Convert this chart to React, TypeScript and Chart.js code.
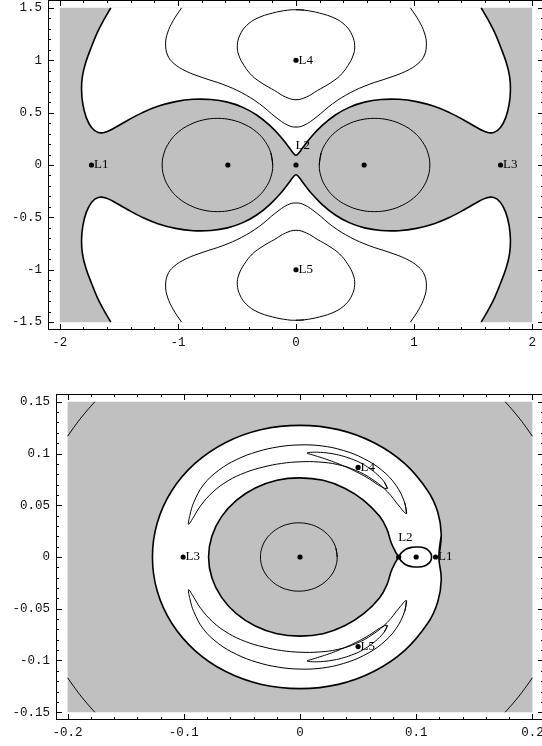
import React, { useEffect, useRef } from "react";
import { Chart, registerables } from "chart.js";

Chart.register(...registerables);

type P = [number, number];

const GRAY = "rgb(192,192,192)";

// ================= TOP CHART (equal masses) =================
const topXRange: P = [-2.1, 2.1];
const topYRange: P = [-1.575, 1.575];
const topXTicks = [-2, -1, 0, 1, 2];
const topXTickLabels = ["-2", "-1", "0", "1", "2"];
const topYTicks = [-1.5, -1, -0.5, 0, 0.5, 1, 1.5];
const topYTickLabels = ["-1.5", "-1", "-0.5", "0", "0.5", "1", "1.5"];
const topXMinor = [-1.8, -1.6, -1.4, -1.2, -0.8, -0.6, -0.4, -0.2, 0.2, 0.4, 0.6, 0.8, 1.2, 1.4, 1.6, 1.8];
const topYMinor = [-1.4, -1.3, -1.2, -1.1, -0.9, -0.8, -0.7, -0.6, -0.4, -0.3, -0.2, -0.1, 0.1, 0.2, 0.3, 0.4, 0.6, 0.7, 0.8, 0.9, 1.1, 1.2, 1.3, 1.4];

const topRegion: P[] = [[-2, -1.5], [-2, 1.5], [2, 1.5], [2, -1.5], [-2, -1.5]];

const topUpperBoundary: P[] = [
  [-1.568, 1.5], [-1.625, 1.39], [-1.68, 1.27], [-1.735, 1.12], [-1.78, 0.98], [-1.808, 0.85], [-1.816, 0.72],
  [-1.805, 0.58], [-1.775, 0.45], [-1.73, 0.355], [-1.675, 0.31], [-1.61, 0.315], [-1.52, 0.365], [-1.42, 0.43],
  [-1.3, 0.5], [-1.17, 0.56], [-1.02, 0.605], [-0.87, 0.627], [-0.72, 0.625], [-0.58, 0.6], [-0.45, 0.55],
  [-0.33, 0.475], [-0.22, 0.375], [-0.13, 0.27], [-0.06, 0.17], [-0.022, 0.113], [0, 0.093],
  [0.022, 0.113], [0.06, 0.17], [0.13, 0.27], [0.22, 0.375], [0.33, 0.475], [0.45, 0.55], [0.58, 0.6],
  [0.72, 0.625], [0.87, 0.627], [1.02, 0.605], [1.17, 0.56], [1.3, 0.5], [1.42, 0.43], [1.52, 0.365],
  [1.61, 0.315], [1.675, 0.31], [1.73, 0.355], [1.775, 0.45], [1.805, 0.58], [1.816, 0.72], [1.808, 0.85],
  [1.78, 0.98], [1.735, 1.12], [1.68, 1.27], [1.625, 1.39], [1.568, 1.5],
];

const topLowerBoundary: P[] = [
  [-1.568, -1.5], [-1.625, -1.39], [-1.68, -1.27], [-1.735, -1.12], [-1.78, -0.98], [-1.808, -0.85], [-1.816, -0.72],
  [-1.805, -0.58], [-1.775, -0.45], [-1.73, -0.355], [-1.675, -0.31], [-1.61, -0.315], [-1.52, -0.365], [-1.42, -0.43],
  [-1.3, -0.5], [-1.17, -0.56], [-1.02, -0.605], [-0.87, -0.627], [-0.72, -0.625], [-0.58, -0.6], [-0.45, -0.55],
  [-0.33, -0.475], [-0.22, -0.375], [-0.13, -0.27], [-0.06, -0.17], [-0.022, -0.113], [0, -0.093],
  [0.022, -0.113], [0.06, -0.17], [0.13, -0.27], [0.22, -0.375], [0.33, -0.475], [0.45, -0.55], [0.58, -0.6],
  [0.72, -0.625], [0.87, -0.627], [1.02, -0.605], [1.17, -0.56], [1.3, -0.5], [1.42, -0.43], [1.52, -0.365],
  [1.61, -0.315], [1.675, -0.31], [1.73, -0.355], [1.775, -0.45], [1.805, -0.58], [1.816, -0.72], [1.808, -0.85],
  [1.78, -0.98], [1.735, -1.12], [1.68, -1.27], [1.625, -1.39], [1.568, -1.5],
];

const topLeftOval: P[] = [
  [-0.197, 0], [-0.213, 0.115], [-0.26, 0.2225], [-0.334, 0.315], [-0.431, 0.385], [-0.544, 0.43], [-0.665, 0.445],
  [-0.786, 0.43], [-0.899, 0.385], [-0.996, 0.315], [-1.07, 0.2225], [-1.117, 0.115], [-1.133, 0],
  [-1.117, -0.115], [-1.07, -0.2225], [-0.996, -0.315], [-0.899, -0.385], [-0.786, -0.43], [-0.665, -0.445],
  [-0.544, -0.43], [-0.431, -0.385], [-0.334, -0.315], [-0.26, -0.2225], [-0.213, -0.115], [-0.197, 0], [-0.213, 0.115],
];

const topRightOval: P[] = [
  [0.197, 0], [0.213, 0.115], [0.26, 0.2225], [0.334, 0.315], [0.431, 0.385], [0.544, 0.43], [0.665, 0.445],
  [0.786, 0.43], [0.899, 0.385], [0.996, 0.315], [1.07, 0.2225], [1.117, 0.115], [1.133, 0],
  [1.117, -0.115], [1.07, -0.2225], [0.996, -0.315], [0.899, -0.385], [0.786, -0.43], [0.665, -0.445],
  [0.544, -0.43], [0.431, -0.385], [0.334, -0.315], [0.26, -0.2225], [0.213, -0.115], [0.197, 0], [0.213, 0.115],
];

const topUpperContour: P[] = [
  [-0.969, 1.5], [-1.04, 1.378], [-1.088, 1.26], [-1.104, 1.156], [-1.088, 1.05], [-1.035, 0.97], [-0.93, 0.895],
  [-0.78, 0.83], [-0.62, 0.77], [-0.46, 0.69], [-0.31, 0.585], [-0.17, 0.455], [-0.07, 0.38], [0, 0.362],
  [0.07, 0.38], [0.17, 0.455], [0.31, 0.585], [0.46, 0.69], [0.62, 0.77], [0.78, 0.83], [0.93, 0.895],
  [1.035, 0.97], [1.088, 1.05], [1.104, 1.156], [1.088, 1.26], [1.04, 1.378], [0.969, 1.5],
];

const topLowerContour: P[] = [
  [-0.969, -1.5], [-1.04, -1.378], [-1.088, -1.26], [-1.104, -1.156], [-1.088, -1.05], [-1.035, -0.97], [-0.93, -0.895],
  [-0.78, -0.83], [-0.62, -0.77], [-0.46, -0.69], [-0.31, -0.585], [-0.17, -0.455], [-0.07, -0.38], [0, -0.362],
  [0.07, -0.38], [0.17, -0.455], [0.31, -0.585], [0.46, -0.69], [0.62, -0.77], [0.78, -0.83], [0.93, -0.895],
  [1.035, -0.97], [1.088, -1.05], [1.104, -1.156], [1.088, -1.26], [1.04, -1.378], [0.969, -1.5],
];

const topL4Loop: P[] = [
  [0, 1.482], [0.07, 1.478], [0.2, 1.45], [0.33, 1.4], [0.42, 1.33], [0.475, 1.24], [0.497, 1.14], [0.485, 1.05],
  [0.44, 0.95], [0.37, 0.85], [0.28, 0.775], [0.18, 0.71], [0.09, 0.65], [0, 0.623], [-0.09, 0.65], [-0.18, 0.71],
  [-0.28, 0.775], [-0.37, 0.85], [-0.44, 0.95], [-0.485, 1.05], [-0.497, 1.14], [-0.475, 1.24], [-0.42, 1.33],
  [-0.33, 1.4], [-0.2, 1.45], [-0.07, 1.478], [0, 1.482], [0.07, 1.478],
];

const topL5Loop: P[] = [
  [0, -1.482], [0.07, -1.478], [0.2, -1.45], [0.33, -1.4], [0.42, -1.33], [0.475, -1.24], [0.497, -1.14], [0.485, -1.05],
  [0.44, -0.95], [0.37, -0.85], [0.28, -0.775], [0.18, -0.71], [0.09, -0.65], [0, -0.623], [-0.09, -0.65], [-0.18, -0.71],
  [-0.28, -0.775], [-0.37, -0.85], [-0.44, -0.95], [-0.485, -1.05], [-0.497, -1.14], [-0.475, -1.24], [-0.42, -1.33],
  [-0.33, -1.4], [-0.2, -1.45], [-0.07, -1.478], [0, -1.482], [0.07, -1.478],
];

const topPrimaryX = [-0.577, 0.577];
const topPrimaryY = [0, 0];
const topLabelNames = ["L1", "L2", "L3", "L4", "L5"];
const topLabelX = [-1.732, 0, 1.732, 0, 0];
const topLabelY = [0, 0, 0, 1, -1];
const topLabelSide = ["right", "above", "right", "right", "right"];

// ================= BOTTOM CHART (small mass ratio) =================
const botXRange: P = [-0.21, 0.21];
const botYRange: P = [-0.1575, 0.1575];
const botXTicks = [-0.2, -0.1, 0, 0.1, 0.2];
const botXTickLabels = ["-0.2", "-0.1", "0", "0.1", "0.2"];
const botYTicks = [-0.15, -0.1, -0.05, 0, 0.05, 0.1, 0.15];
const botYTickLabels = ["-0.15", "-0.1", "-0.05", "0", "0.05", "0.1", "0.15"];
const botXMinor = [-0.18, -0.16, -0.14, -0.12, -0.08, -0.06, -0.04, -0.02, 0.02, 0.04, 0.06, 0.08, 0.12, 0.14, 0.16, 0.18];
const botYMinor = [-0.14, -0.13, -0.12, -0.11, -0.09, -0.08, -0.07, -0.06, -0.04, -0.03, -0.02, -0.01, 0.01, 0.02, 0.03, 0.04, 0.06, 0.07, 0.08, 0.09, 0.11, 0.12, 0.13, 0.14];

const botRegion: P[] = [[-0.2, -0.15], [-0.2, 0.15], [0.2, 0.15], [0.2, -0.15], [-0.2, -0.15]];

const botOuterBoundary: P[] = [
  [0.1195, 0], [0.1216, 0.0214], [0.1186, 0.0432], [0.1102, 0.0636], [0.0902, 0.0902], [0.0638, 0.1104], [0.033, 0.1231],
  [0, 0.1272], [-0.033, 0.1232], [-0.0639, 0.1107], [-0.0904, 0.0904], [-0.1105, 0.0638], [-0.1229, 0.0329], [-0.127, 0],
  [-0.1229, -0.0329], [-0.1105, -0.0638], [-0.0904, -0.0904], [-0.0639, -0.1107], [-0.033, -0.1232], [0, -0.1272],
  [0.033, -0.1231], [0.0638, -0.1104], [0.0902, -0.0902], [0.1102, -0.0636], [0.1186, -0.0432], [0.1216, -0.0214],
  [0.1195, 0], [0.1216, 0.0214],
];

const botInnerBoundary: P[] = [
  [0.0849, 0], [0.082, 0.0055], [0.0785, 0.0138], [0.0747, 0.0272], [0.0684, 0.0395], [0.0548, 0.0548], [0.0384, 0.0665],
  [0.0199, 0.0741], [0, 0.0765], [-0.0199, 0.0742], [-0.0385, 0.0667], [-0.0548, 0.0548], [-0.0675, 0.039],
  [-0.0758, 0.0203], [-0.0787, 0], [-0.0758, -0.0203], [-0.0675, -0.039], [-0.0548, -0.0548], [-0.0385, -0.0667],
  [-0.0199, -0.0742], [0, -0.0765], [0.0199, -0.0741], [0.0384, -0.0665], [0.0548, -0.0548], [0.0684, -0.0395],
  [0.0747, -0.0272], [0.0785, -0.0138], [0.082, -0.0055], [0.0849, 0],
];

const botLobe: P[] = [
  [0.0849, 0], [0.0872, 0.004], [0.0915, 0.0078], [0.0965, 0.0094], [0.1015, 0.0097], [0.1065, 0.009], [0.1105, 0.0065],
  [0.1127, 0.0032], [0.1132, 0], [0.1127, -0.0032], [0.1105, -0.0065], [0.1065, -0.009], [0.1015, -0.0097],
  [0.0965, -0.0094], [0.0915, -0.0078], [0.0872, -0.004], [0.0849, 0],
];

const botCoreCircle: P[] = [
  [0.032, 0], [0.0309, 0.0085], [0.0276, 0.0165], [0.0223, 0.0233], [0.0155, 0.0286], [0.0075, 0.0319], [-0.001, 0.033],
  [-0.0095, 0.0319], [-0.0175, 0.0286], [-0.0243, 0.0233], [-0.0296, 0.0165], [-0.0329, 0.0085], [-0.034, 0],
  [-0.0329, -0.0085], [-0.0296, -0.0165], [-0.0243, -0.0233], [-0.0175, -0.0286], [-0.0095, -0.0319], [-0.001, -0.033],
  [0.0075, -0.0319], [0.0155, -0.0286], [0.0223, -0.0233], [0.0276, -0.0165], [0.0309, -0.0085], [0.032, 0], [0.0309, 0.0085],
];

const botUpperCrescent: P[] = [
  [0.0915, 0.042], [0.0902, 0.0521], [0.0826, 0.0693], [0.0704, 0.0839], [0.0549, 0.0951], [0.0374, 0.1029],
  [0.0189, 0.1073], [0, 0.1083], [-0.0187, 0.1064], [-0.037, 0.1017], [-0.0544, 0.0942], [-0.0702, 0.0836],
  [-0.0831, 0.0697], [-0.0914, 0.0528], [-0.0948, 0.0402], [-0.0959, 0.0316], [-0.0923, 0.0373], [-0.0856, 0.0494],
  [-0.0749, 0.0629], [-0.0618, 0.0737], [-0.0471, 0.0816], [-0.0316, 0.0869], [-0.0159, 0.0904], [0, 0.092],
  [0.0162, 0.0918], [0.0325, 0.0893], [0.0483, 0.0836], [0.0627, 0.0747], [0.0752, 0.0631], [0.0853, 0.0493],
  [0.0915, 0.042], [0.0902, 0.0521],
];

const botLowerCrescent: P[] = [
  [0.0915, -0.042], [0.0902, -0.0521], [0.0826, -0.0693], [0.0704, -0.0839], [0.0549, -0.0951], [0.0374, -0.1029],
  [0.0189, -0.1073], [0, -0.1083], [-0.0187, -0.1064], [-0.037, -0.1017], [-0.0544, -0.0942], [-0.0702, -0.0836],
  [-0.0831, -0.0697], [-0.0914, -0.0528], [-0.0948, -0.0402], [-0.0959, -0.0316], [-0.0923, -0.0373], [-0.0856, -0.0494],
  [-0.0749, -0.0629], [-0.0618, -0.0737], [-0.0471, -0.0816], [-0.0316, -0.0869], [-0.0159, -0.0904], [0, -0.092],
  [0.0162, -0.0918], [0.0325, -0.0893], [0.0483, -0.0836], [0.0627, -0.0747], [0.0752, -0.0631], [0.0853, -0.0493],
  [0.0915, -0.042], [0.0902, -0.0521],
];

const botUpperSmallCrescent: P[] = [
  [0.0751, 0.0661], [0.0725, 0.0725], [0.0667, 0.0795], [0.0599, 0.0856], [0.0524, 0.0908], [0.0442, 0.0948],
  [0.0356, 0.0979], [0.0268, 0.1], [0.0178, 0.1011], [0.0106, 0.1012], [0.006, 0.1004], [0.0104, 0.0988],
  [0.017, 0.0965], [0.0251, 0.0935], [0.0328, 0.0902], [0.0404, 0.0866], [0.0478, 0.0827], [0.055, 0.0785],
  [0.0619, 0.0738], [0.0687, 0.0687], [0.0751, 0.0661], [0.0725, 0.0725],
];

const botLowerSmallCrescent: P[] = [
  [0.0751, -0.0661], [0.0725, -0.0725], [0.0667, -0.0795], [0.0599, -0.0856], [0.0524, -0.0908], [0.0442, -0.0948],
  [0.0356, -0.0979], [0.0268, -0.1], [0.0178, -0.1011], [0.0106, -0.1012], [0.006, -0.1004], [0.0104, -0.0988],
  [0.017, -0.0965], [0.0251, -0.0935], [0.0328, -0.0902], [0.0404, -0.0866], [0.0478, -0.0827], [0.055, -0.0785],
  [0.0619, -0.0738], [0.0687, -0.0687], [0.0751, -0.0661], [0.0725, -0.0725],
];

const botCornerTL: P[] = [[-0.1766, 0.15], [-0.1835, 0.1412], [-0.1895, 0.133], [-0.1948, 0.125], [-0.2, 0.1167]];
const botCornerBL: P[] = [[-0.1766, -0.15], [-0.1835, -0.1412], [-0.1895, -0.133], [-0.1948, -0.125], [-0.2, -0.1167]];
const botCornerTR: P[] = [[0.1766, 0.15], [0.1835, 0.1412], [0.1895, 0.133], [0.1948, 0.125], [0.2, 0.1167]];
const botCornerBR: P[] = [[0.1766, -0.15], [0.1835, -0.1412], [0.1895, -0.133], [0.1948, -0.125], [0.2, -0.1167]];

const botPrimaryX = [0, 0.1];
const botPrimaryY = [0, 0];
const botLabelNames = ["L1", "L2", "L3", "L4", "L5"];
const botLabelX = [0.1167, 0.0849, -0.1006, 0.05, 0.05];
const botLabelY = [0, 0, 0, 0.0866, -0.0866];
const botLabelSide = ["right", "above", "right", "right", "right"];

// ================= helpers =================
const THICK = 1.6;
const THIN = 1;

const toXY = (pts: P[]) => pts.map(([x, y]) => ({ x, y }));

function area(pts: P[], color: string, borderWidth = 0, tension = 0.4) {
  return {
    data: toXY(pts),
    showLine: true,
    fill: "shape",
    backgroundColor: color,
    borderColor: borderWidth > 0 ? "#000" : "rgba(0,0,0,0)",
    borderWidth: borderWidth > 0 ? borderWidth : 1,
    pointRadius: 0,
    pointHoverRadius: 0,
    tension,
  };
}

function curve(pts: P[], width: number) {
  return {
    data: toXY(pts),
    showLine: true,
    fill: false,
    borderColor: "#000",
    backgroundColor: "#000",
    borderWidth: width,
    pointRadius: 0,
    pointHoverRadius: 0,
    tension: 0.4,
  };
}

function dots(xs: number[], ys: number[]) {
  return {
    data: xs.map((x, i) => ({ x, y: ys[i] })),
    showLine: false,
    pointRadius: 2.6,
    pointHoverRadius: 2.6,
    pointBackgroundColor: "#000",
    pointBorderWidth: 0,
    pointBorderColor: "#000",
  };
}

const framePlugin = {
  id: "mmaFrame",
  afterDatasetsDraw(chart: any, _args: any, opts: any) {
    const { ctx, chartArea: a, scales } = chart;
    const xs = scales.x;
    const ys = scales.y;
    ctx.save();
    ctx.strokeStyle = "#000";
    ctx.lineWidth = 1;
    const vx = (vals: number[], len: number) => {
      ctx.beginPath();
      for (const v of vals) {
        const px = Math.round(xs.getPixelForValue(v)) + 0.5;
        ctx.moveTo(px, a.bottom);
        ctx.lineTo(px, a.bottom - len);
        ctx.moveTo(px, a.top);
        ctx.lineTo(px, a.top + len);
      }
      ctx.stroke();
    };
    const vy = (vals: number[], len: number) => {
      ctx.beginPath();
      for (const v of vals) {
        const py = Math.round(ys.getPixelForValue(v)) + 0.5;
        ctx.moveTo(a.left, py);
        ctx.lineTo(a.left + len, py);
        ctx.moveTo(a.right, py);
        ctx.lineTo(a.right - len, py);
      }
      ctx.stroke();
    };
    vx(opts.xMajor, 6);
    vx(opts.xMinor, 3);
    vy(opts.yMajor, 6);
    vy(opts.yMinor, 3);
    ctx.strokeRect(a.left + 0.5, a.top + 0.5, a.right - a.left - 1, a.bottom - a.top - 1);

    ctx.fillStyle = "#000";
    ctx.font = '13px "Liberation Serif"';
    const names: string[] = opts.labelNames;
    names.forEach((name, i) => {
      const px = xs.getPixelForValue(opts.labelX[i]);
      const py = ys.getPixelForValue(opts.labelY[i]);
      if (opts.labelSide[i] === "above") {
        ctx.textAlign = "left";
        ctx.textBaseline = "alphabetic";
        ctx.fillText(name, px - 0.5, py - 16.5);
      } else {
        ctx.textAlign = "left";
        ctx.textBaseline = "middle";
        ctx.fillText(name, px + 2.5, py);
      }
    });
    ctx.restore();
  },
};

function makeScales(
  xr: P, yr: P, xVals: number[], xLabels: string[], yVals: number[], yLabels: string[],
  yAxisWidth: number, xAxisHeight: number
) {
  const font = { family: '"Liberation Mono", "Courier New", monospace', size: 12.5 };
  return {
    x: {
      type: "linear",
      position: "bottom",
      min: xr[0],
      max: xr[1],
      afterBuildTicks: (s: any) => {
        s.ticks = xVals.map((value) => ({ value }));
      },
      afterFit: (s: any) => {
        s.height = xAxisHeight;
        s.paddingLeft = 0;
        s.paddingRight = 0;
      },
      ticks: {
        autoSkip: false,
        maxRotation: 0,
        minRotation: 0,
        padding: 5,
        color: "#111",
        font,
        callback: (_v: any, i: number) => xLabels[i],
      },
      grid: { display: false, drawTicks: false },
      border: { display: false },
    },
    y: {
      type: "linear",
      position: "left",
      min: yr[0],
      max: yr[1],
      afterBuildTicks: (s: any) => {
        s.ticks = yVals.map((value) => ({ value }));
      },
      afterFit: (s: any) => {
        s.width = yAxisWidth;
        s.paddingTop = 0;
        s.paddingBottom = 0;
      },
      ticks: {
        autoSkip: false,
        padding: 6,
        color: "#111",
        font,
        callback: (_v: any, i: number) => yLabels[i],
      },
      grid: { display: false, drawTicks: false },
      border: { display: false },
    },
  };
}

function withOrder(list: any[]) {
  const n = list.length;
  return list.map((d, i) => ({ ...d, order: n - i }));
}

function buildTop() {
  const datasets = withOrder([
    area(topRegion, GRAY, 0, 0),
    area(topUpperBoundary, "#ffffff", THICK),
    area(topLowerBoundary, "#ffffff", THICK),
    curve(topLeftOval, THIN),
    curve(topRightOval, THIN),
    curve(topUpperContour, THIN),
    curve(topLowerContour, THIN),
    curve(topL4Loop, THIN),
    curve(topL5Loop, THIN),
    dots(topLabelX, topLabelY),
    dots(topPrimaryX, topPrimaryY),
  ]);
  return {
    type: "scatter",
    data: { datasets },
    options: {
      responsive: false,
      animation: false,
      events: [],
      layout: { autoPadding: false, padding: { top: 0, left: 0, right: 0, bottom: 0 } },
      scales: makeScales(topXRange, topYRange, topXTicks, topXTickLabels, topYTicks, topYTickLabels, 48, 22),
      plugins: {
        legend: { display: false },
        tooltip: { enabled: false },
        mmaFrame: {
          xMajor: topXTicks, xMinor: topXMinor, yMajor: topYTicks, yMinor: topYMinor,
          labelNames: topLabelNames, labelX: topLabelX, labelY: topLabelY, labelSide: topLabelSide,
        },
      },
    },
    plugins: [framePlugin],
  };
}

function buildBottom() {
  const datasets = withOrder([
    area(botRegion, GRAY, 0, 0),
    area(botOuterBoundary, "#ffffff", THICK),
    area(botInnerBoundary, GRAY, THICK),
    area(botLobe, "#ffffff", THICK),
    curve(botCoreCircle, THIN),
    curve(botUpperCrescent, THIN),
    curve(botLowerCrescent, THIN),
    curve(botUpperSmallCrescent, THIN),
    curve(botLowerSmallCrescent, THIN),
    curve(botCornerTL, THIN),
    curve(botCornerBL, THIN),
    curve(botCornerTR, THIN),
    curve(botCornerBR, THIN),
    dots(botLabelX, botLabelY),
    dots(botPrimaryX, botPrimaryY),
  ]);
  return {
    type: "scatter",
    data: { datasets },
    options: {
      responsive: false,
      animation: false,
      events: [],
      layout: { autoPadding: false, padding: { top: 14, left: 0, right: 0, bottom: 0 } },
      scales: makeScales(botXRange, botYRange, botXTicks, botXTickLabels, botYTicks, botYTickLabels, 56, 26),
      plugins: {
        legend: { display: false },
        tooltip: { enabled: false },
        mmaFrame: {
          xMajor: botXTicks, xMinor: botXMinor, yMajor: botYTicks, yMinor: botYMinor,
          labelNames: botLabelNames, labelX: botLabelX, labelY: botLabelY, labelSide: botLabelSide,
        },
      },
    },
    plugins: [framePlugin],
  };
}

function ChartCanvas({ width, height, top, build }: { width: number; height: number; top: number; build: () => any }) {
  const ref = useRef<HTMLCanvasElement | null>(null);
  useEffect(() => {
    if (!ref.current) return;
    const chart = new Chart(ref.current, build());
    return () => chart.destroy();
  }, []);
  return (
    <canvas
      ref={ref}
      width={width}
      height={height}
      style={{ position: "absolute", left: 0, top, width, height, display: "block" }}
    />
  );
}

export default function App() {
  return (
    <div
      style={{
        position: "absolute",
        left: 0,
        top: 0,
        width: 542,
        height: 746,
        overflow: "hidden",
        background: "#fff",
      }}
    >
      <ChartCanvas width={544} height={352} top={0} build={buildTop} />
      <ChartCanvas width={544} height={366} top={380} build={buildBottom} />
    </div>
  );
}
